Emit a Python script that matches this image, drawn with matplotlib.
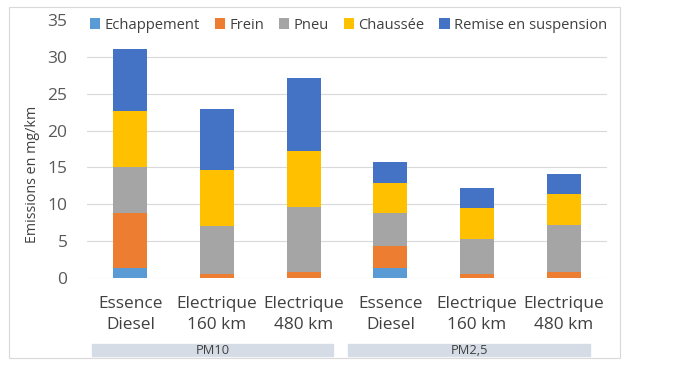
import numpy as np
import matplotlib.pyplot as plt
from matplotlib.patches import Rectangle

categories = ["Essence\nDiesel", "Electrique\n160 km", "Electrique\n480 km",
              "Essence\nDiesel", "Electrique\n160 km", "Electrique\n480 km"]
groups = ["PM10", "PM2,5"]
series = ["Echappement", "Frein", "Pneu", "Chaussée", "Remise en suspension"]
echappement = [1.3, 0.0, 0.0, 1.35, 0.0, 0.0]
frein = [7.5, 0.5, 0.8, 3.0, 0.6, 0.8]
pneu = [6.3, 6.6, 8.8, 4.45, 4.75, 6.4]
chaussee = [7.6, 7.6, 7.6, 4.15, 4.15, 4.2]
remise = [8.3, 8.2, 9.9, 2.75, 2.75, 2.75]
colors = ["#5B9BD5", "#ED7D31", "#A5A5A5", "#FFC000", "#4472C4"]

plt.rcParams['font.family'] = ['Open Sans', 'DejaVu Sans']

W, H = 683, 376
fig = plt.figure(figsize=(W / 100, H / 100), dpi=100)
ax = fig.add_axes([87 / W, 1 - 278 / H, 520 / W, 258 / H])

# chart border
fig.patches.append(Rectangle((9 / W, 1 - 358 / H), 611 / W, 351 / H,
                             transform=fig.transFigure, fill=False,
                             edgecolor="#D9D9D9", linewidth=0.8))

x = np.arange(len(categories))
bottom = np.zeros(len(categories))
for name, vals, c in zip(series, [echappement, frein, pneu, chaussee, remise], colors):
    ax.bar(x, vals, 0.39, bottom=bottom, color=c, label=name, zorder=3)
    bottom += np.array(vals)

ax.set_xlim(-0.5, len(categories) - 0.5)
ax.set_ylim(0, 35)
ax.set_yticks(np.arange(0, 36, 5))
ax.grid(axis="y", color="#D9D9D9", linewidth=0.8, zorder=0)
ax.get_ygridlines()[-1].set_visible(False)
for s in ax.spines.values():
    s.set_visible(False)
ax.tick_params(axis="y", length=0, pad=14, labelsize=12.5, labelcolor="#595959")
ax.tick_params(axis="x", length=0, pad=13, labelsize=12.4, labelcolor="#404040")
ax.set_xticks(x)
ax.set_xticklabels(categories, linespacing=1.4)
ax.set_ylabel("Emissions en mg/km", fontsize=10.3, color="#404040")
ax.yaxis.set_label_coords(-0.09, 0.40)

leg = ax.legend(loc="upper left", bbox_to_anchor=(0.0, 1.021), ncol=5, frameon=True,
                fontsize=10.6, handlelength=0.7, handleheight=0.7, handletextpad=0.3,
                columnspacing=1.0, borderaxespad=0, borderpad=0.2)
leg.get_frame().set_edgecolor("none")
leg.get_frame().set_facecolor("white")
for t in leg.get_texts():
    t.set_color("#404040")

# group label boxes
for (x0, x1), g in zip([(92, 333), (348, 590)], groups):
    fig.patches.append(Rectangle((x0 / W, 1 - 356 / H), (x1 - x0) / W, 12 / H,
                                 transform=fig.transFigure, color="#D6DCE5"))
    fig.text((x0 + x1) / 2 / W, 1 - 350 / H, g, ha="center", va="center",
             fontsize=9.3, color="#404040")

fig.savefig("out.png", dpi=100)
